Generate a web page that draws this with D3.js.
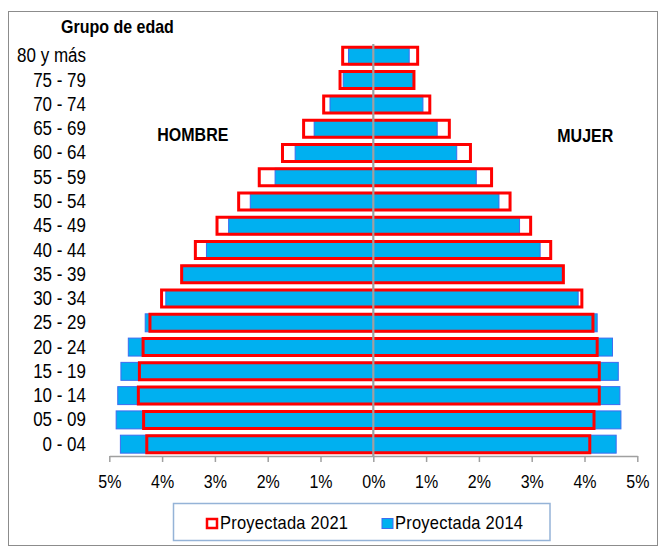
<!DOCTYPE html>
<html>
<head>
<meta charset="utf-8">
<script src="https://cdn.jsdelivr.net/npm/d3@7"></script>
<style>
  html, body { margin: 0; padding: 0; background: #fff; }
  svg { display: block; }
  text { font-family: "Liberation Sans", Arial, sans-serif; fill: #000; }
</style>
</head>
<body>
<svg id="chart" width="667" height="548"></svg>
<script>
const categories = ["80 y más","75 - 79","70 - 74","65 - 69","60 - 64","55 - 59","50 - 54","45 - 49","40 - 44","35 - 39","30 - 34","25 - 29","20 - 24","15 - 19","10 - 14","05 - 09","0 - 04"];
const hombre2014 = [0.47, 0.57, 0.82, 1.12, 1.48, 1.86, 2.33, 2.74, 3.16, 3.61, 3.93, 4.32, 4.64, 4.78, 4.84, 4.87, 4.79];
const hombre2021 = [0.58, 0.63, 0.94, 1.32, 1.72, 2.16, 2.55, 2.96, 3.37, 3.63, 4.01, 4.23, 4.36, 4.43, 4.45, 4.35, 4.29];
const mujer2014  = [0.68, 0.76, 0.94, 1.21, 1.58, 1.95, 2.38, 2.77, 3.16, 3.58, 3.88, 4.24, 4.53, 4.64, 4.67, 4.69, 4.60];
const mujer2021  = [0.84, 0.77, 1.07, 1.44, 1.84, 2.24, 2.59, 2.98, 3.36, 3.60, 3.95, 4.16, 4.24, 4.28, 4.28, 4.18, 4.10];
const tickValues = [-5, -4, -3, -2, -1, 0, 1, 2, 3, 4, 5];
const seriesNames = ["Proyectada 2021", "Proyectada 2014"];
const axisTitle = "Grupo de edad";
const sideLabels = ["HOMBRE", "MUJER"];

const svg = d3.select("#chart");
const SY = 1.15; // vertical stretch of the original text rendering

// outer border
svg.append("rect").attr("x", 8.5).attr("y", 11.5).attr("width", 649).attr("height", 534)
  .attr("fill", "#fff").attr("stroke", "#8c8c8c").attr("stroke-width", 1);

const x = d3.scaleLinear().domain([-5, 5]).range([109.3, 637.3]);
const y = d3.scaleBand().domain(categories).range([43.7, 456.3]).paddingInner(0.26).paddingOuter(0.13);
const bw = y.bandwidth();

function stretchedText(g, tx, ty, str, opts) {
  const t = g.append("text")
    .attr("transform", `translate(${tx},${ty}) scale(1,${SY})`)
    .text(str);
  if (opts.size) t.attr("font-size", opts.size);
  if (opts.weight) t.attr("font-weight", opts.weight);
  if (opts.anchor) t.attr("text-anchor", opts.anchor);
  if (opts.len) t.attr("textLength", opts.len).attr("lengthAdjust", "spacing");
  return t;
}

// blue bars (2014)
const blue = svg.append("g");
categories.forEach((c, i) => {
  const y0 = y(c);
  blue.append("rect")
    .attr("x", x(-hombre2014[i])).attr("y", y0)
    .attr("width", x(0) - x(-hombre2014[i])).attr("height", bw)
    .attr("fill", "#00B0F0").attr("stroke", "#3d6cf0").attr("stroke-width", 1);
  blue.append("rect")
    .attr("x", x(0)).attr("y", y0)
    .attr("width", x(mujer2014[i]) - x(0)).attr("height", bw)
    .attr("fill", "#00B0F0").attr("stroke", "#3d6cf0").attr("stroke-width", 1);
});

// red outlined bars (2021)
const red = svg.append("g");
categories.forEach((c, i) => {
  const yc = y(c) + bw / 2;
  const h = 17;
  const yt = yc - h / 2, yb = yc + h / 2;
  [[-hombre2021[i]], [mujer2021[i]]].forEach(([v]) => {
    red.append("path")
      .attr("d", `M${x(0)},${yt}H${x(v)}V${yb}H${x(0)}`)
      .attr("fill", "none").attr("stroke", "#FF0000").attr("stroke-width", 3)
      .attr("stroke-linejoin", "miter");
  });
});

// center line
svg.append("line").attr("x1", x(0)).attr("x2", x(0)).attr("y1", 44).attr("y2", 456)
  .attr("stroke", "#a0a0a0").attr("stroke-width", 2.2);

// bottom axis
const axis = d3.axisBottom(x).tickValues(tickValues).tickSize(6).tickSizeOuter(0)
  .tickFormat(d => Math.abs(d) + "%");
const ag = svg.append("g").attr("transform", "translate(0,456)").call(axis);
ag.select(".domain").attr("stroke", "#a0a0a0").attr("stroke-width", 1.5);
ag.selectAll(".tick line").attr("stroke", "#a0a0a0").attr("stroke-width", 1.5);
ag.selectAll(".tick text").remove();
ag.selectAll(".tick").each(function(d) {
  stretchedText(d3.select(this), 0, 31.5, Math.abs(d) + "%", {size: 16, anchor: "middle"});
});

// category labels
const lg = svg.append("g");
categories.forEach(c => {
  stretchedText(lg, 86, y(c) + bw / 2 + 6.5, c, {size: 17, anchor: "end"});
});

// titles
stretchedText(svg, 61, 33.3, axisTitle, {size: 16, weight: "bold"});
stretchedText(svg, 157.3, 140.8, sideLabels[0], {size: 16, weight: "bold"});
stretchedText(svg, 557.3, 142, sideLabels[1], {size: 16, weight: "bold"});

// legend
const leg = svg.append("g");
leg.append("rect").attr("x", 173.5).attr("y", 503.5).attr("width", 376.5).attr("height", 37)
  .attr("fill", "#fff").attr("stroke", "#95b3d7").attr("stroke-width", 1.5);
leg.append("rect").attr("x", 207).attr("y", 519).attr("width", 10).attr("height", 9)
  .attr("fill", "#fff").attr("stroke", "#FF0000").attr("stroke-width", 2.5);
stretchedText(leg, 220, 529, seriesNames[0], {size: 16.5, len: 128});
leg.append("rect").attr("x", 382).attr("y", 518.5).attr("width", 11).attr("height", 10)
  .attr("fill", "#00B0F0").attr("stroke", "#3d6cf0").attr("stroke-width", 1);
stretchedText(leg, 395, 529, seriesNames[1], {size: 16.5, len: 128});
</script>
</body>
</html>
